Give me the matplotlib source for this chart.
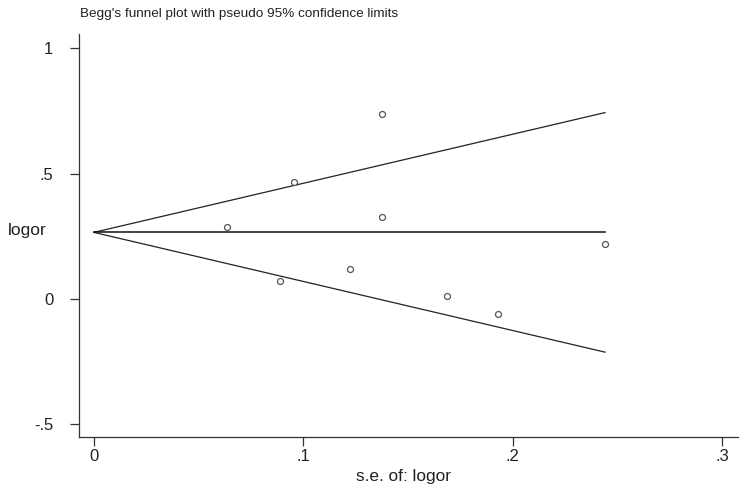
import matplotlib
matplotlib.use("Agg")
import matplotlib.pyplot as plt
import numpy as np

# study data
se = [0.0637, 0.0957, 0.1375, 0.1377, 0.0890, 0.1224, 0.1685, 0.1927, 0.2440]
logor = [0.285, 0.467, 0.7385, 0.327, 0.0695, 0.1186, 0.0096, -0.0623, 0.2196]
pooled = 0.265
xticks = [0, 0.1, 0.2, 0.3]
xticklabels = ["0", ".1", ".2", ".3"]
yticks = [-0.5, 0, 0.5, 1]
yticklabels = ["-.5", "0", ".5", "1"]

plt.rcParams['font.family'] = ['Liberation Sans', 'DejaVu Sans']

fig = plt.figure(figsize=(7.46, 4.92), dpi=100)
ax = fig.add_axes([0.1059, 0.1118, 0.8834, 0.8191])

# pseudo 95% confidence limits
se_max = max(se)
s = np.array([0, se_max])
ax.plot(s, pooled + 1.96 * s, color='#222222', lw=0.9)
ax.plot(s, pooled - 1.96 * s, color='#222222', lw=0.9)
ax.plot(s, [pooled, pooled], color='#111111', lw=1.1)

ax.plot(se, logor, 'o', ms=4.3, mfc='white', mec='#555555', mew=0.9, ls='none')

ax.set_xlim(-0.0071, 0.3075)
ax.set_ylim(-0.552, 1.057)
ax.set_xticks(xticks)
ax.set_xticklabels(xticklabels)
ax.set_yticks(yticks)
ax.set_yticklabels(yticklabels)
ax.tick_params(direction='out', length=6.5, width=0.9, color='#333333',
               labelsize=12, labelcolor='#222222')
ax.tick_params(axis='y', pad=12)
ax.tick_params(axis='x', pad=2)

for side in ['top', 'right']:
    ax.spines[side].set_visible(False)
for side in ['left', 'bottom']:
    ax.spines[side].set_color('#333333')
    ax.spines[side].set_linewidth(0.9)

fig.text(80 / 746, 1 - 14 / 492, "Begg's funnel plot with pseudo 95% confidence limits",
         fontsize=9.7, color='#222222', ha='left', va='center')
fig.text(8 / 746, 1 - 231 / 492, "logor", fontsize=12.5, color='#222222',
         ha='left', va='center')
fig.text(404 / 746, 1 - 477 / 492, "s.e. of: logor", fontsize=12.4, color='#222222',
         ha='center', va='center')

fig.savefig("out.png", dpi=100, facecolor='white')
